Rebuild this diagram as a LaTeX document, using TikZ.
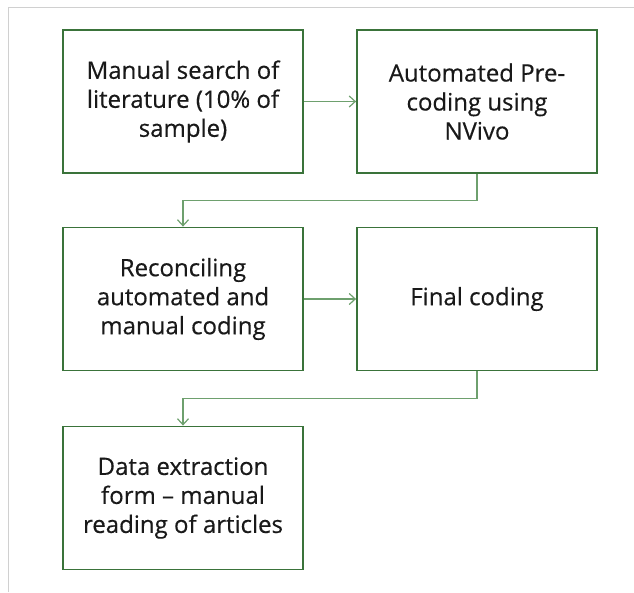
\documentclass[tikz,border=0pt]{standalone}
\usepackage{fontspec}
\setmainfont{Open Sans}[FakeBold=0.4]
\usetikzlibrary{arrows.meta}
\definecolor{boxgreen}{RGB}{58,115,58}
\definecolor{linkgreen}{RGB}{110,160,110}
\definecolor{framegray}{RGB}{208,208,208}
\tikzset{
  x=1pt, y=-1pt,
  stepbox/.style={draw=boxgreen, line width=1.8pt, fill=white,
    minimum width=240pt, minimum height=143pt, align=center,
    font=\fontsize{24}{29}\selectfont, text=black!90, inner sep=0pt},
  link/.style={draw=linkgreen, line width=1.2pt,
    -{Straight Barb[length=6pt,width=11pt,line width=1.2pt]}}
}
\begin{document}
\begin{tikzpicture}
\useasboundingbox (0,0) rectangle (634,592);
% page frame
\draw[framegray, line width=1pt] (8,592) -- (8,7) -- (634,7);
% process steps
\node[stepbox] (manual)    at (183,101.5) {Manual search of\\literature (10\% of\\sample)};
\node[stepbox] (precode)   at (477,101.5) {Automated Pre-\\coding using\\NVivo};
\node[stepbox] (reconcile) at (183,299)   {Reconciling\\automated and\\manual coding};
\node[stepbox] (final)     at (477,299)   {Final coding};
\node[stepbox] (extract)   at (183,498)   {Data extraction\\form -- manual\\reading of articles};
% connectors
\coordinate (bend1) at (477,200.5);
\coordinate (bend2) at (477,398.5);
\draw[link] (manual) -- (precode);
\draw[link] (precode.south) -- (bend1) -| (reconcile.north);
\draw[link] (reconcile) -- (final);
\draw[link] (final.south) -- (bend2) -| (extract.north);
\end{tikzpicture}
\end{document}
